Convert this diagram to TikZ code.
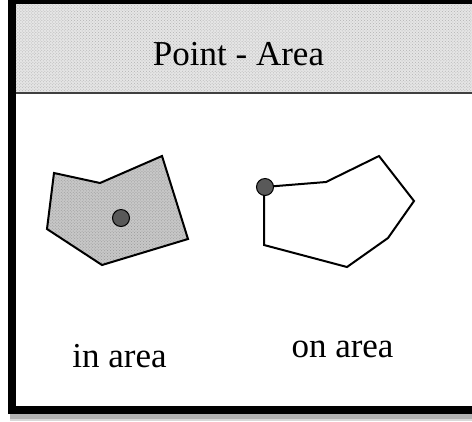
\documentclass[tikz,border=0pt]{standalone}
\usepackage{fontspec}
\setmainfont{Liberation Serif}
\usetikzlibrary{patterns}
\begin{document}
\begin{tikzpicture}[x=1bp,y=-1bp,
  lbl/.style={inner sep=0pt,anchor=base,font=\fontsize{35bp}{40bp}\selectfont},
  dot/.style={circle,draw=black,line width=1bp,fill=black!65,minimum size=17bp,inner sep=0pt},
  poly/.style={draw=black,line width=2bp,line join=miter}]
\useasboundingbox (0,0) rectangle (472,421);
% shadow
\fill[black!30] (10,414) rectangle (472,419);
\fill[black!15] (10,419) rectangle (472,421);
% header
\fill[black!10] (16,4) rectangle (472,92);
\fill[pattern=crosshatch dots,pattern color=black!30] (16,4) rectangle (472,92);
\fill[black!75] (16,92) rectangle (472,94);
% frame
\fill[black] (8,0) rectangle (16,414);
\fill[black] (8,0) rectangle (472,4);
\fill[black] (8,406) rectangle (472,414);
\node[lbl] (title) at (238.5,65) {Point - Area};
% in area
\fill[black!22] (54,173) -- (100,183) -- (162,156) -- (188,239) -- (102,265) -- (47,229) -- cycle;
\fill[pattern=crosshatch dots,pattern color=black!40] (54,173) -- (100,183) -- (162,156) -- (188,239) -- (102,265) -- (47,229) -- cycle;
\draw[poly] (54,173) -- (100,183) -- (162,156) -- (188,239) -- (102,265) -- (47,229) -- cycle;
\node[dot] (p1) at (121,218) {};
% on area
\draw[poly] (264,187) -- (326,182) -- (379,156) -- (414,201) -- (388,238) -- (347,267) -- (264,245) -- cycle;
\node[dot] (p2) at (265,187) {};
\node[lbl] (l1) at (119.5,367) {in area};
\node[lbl] (l2) at (342.5,357) {on area};
\end{tikzpicture}
\end{document}
